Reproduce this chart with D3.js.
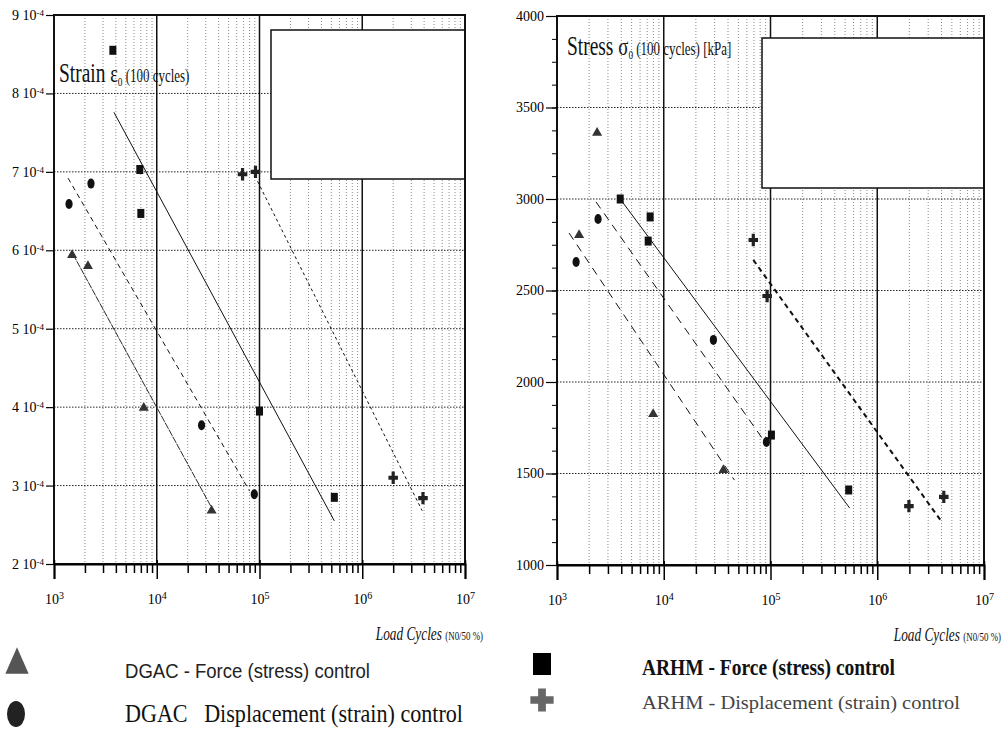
<!DOCTYPE html>
<html>
<head>
<meta charset="utf-8">
<script src="https://cdn.jsdelivr.net/npm/d3@7"></script>
<style>
  body { margin: 0; background: #fff; }
  svg { display: block; }
</style>
</head>
<body>
<svg id="fig" width="1005" height="729"></svg>
<script>
// ---- values ----
var cycleTicks = [1e3, 1e4, 1e5, 1e6, 1e7];
var strainTicks = [2e-4, 3e-4, 4e-4, 5e-4, 6e-4, 7e-4, 8e-4, 9e-4];
var stressTicks = [1000, 1500, 2000, 2500, 3000, 3500, 4000];

// strain panel: [load cycles, strain]
var strainDgacForce = [[1500, 5.94e-4], [2140, 5.80e-4], [7480, 3.99e-4], [34200, 2.68e-4]];
var strainDgacDisp  = [[1400, 6.59e-4], [2290, 6.85e-4], [27300, 3.77e-4], [89000, 2.89e-4]];
var strainArhmForce = [[3740, 8.55e-4], [6840, 7.03e-4], [7000, 6.47e-4], [100000, 3.95e-4], [535000, 2.85e-4]];
var strainArhmDisp  = [[68400, 6.97e-4], [91400, 7.00e-4], [2.0e6, 3.10e-4], [3.9e6, 2.84e-4]];
// fitted lines (end points)
var strainFitDgacForce = [[1530, 5.95e-4], [36500, 2.65e-4]];
var strainFitDgacDisp  = [[1370, 6.92e-4], [80000, 2.93e-4]];
var strainFitArhmForce = [[3830, 7.76e-4], [535000, 2.55e-4]];
var strainFitArhmDisp  = [[95700, 6.88e-4], [3.83e6, 2.68e-4]];

// stress panel: [load cycles, kPa]
var stressDgacForce = [[1610, 2803], [2375, 3361], [7960, 1825], [36200, 1519]];
var stressDgacDisp  = [[1510, 2656], [2425, 2891], [29200, 2230], [91600, 1672]];
var stressArhmForce = [[3910, 3000], [7460, 2902], [7150, 2770], [102000, 1710], [540000, 1410]];
var stressArhmDisp  = [[69000, 2776], [93000, 2470], [1.98e6, 1322], [4.2e6, 1372]];
var stressFitDgacForce = [[1297, 2814], [45900, 1464]];
var stressFitDgacDisp  = [[2320, 2984], [85900, 1683]];
var stressFitArhmForce = [[3910, 3000], [552000, 1311]];
var stressFitArhmDisp  = [[69000, 2667], [4.03e6, 1235]];

var svg = d3.select('#fig');
var serif = '"Liberation Serif", "DejaVu Serif", serif';

/**
 * One S-N panel: log x (load cycles), linear y
 */
function panel(o) {
  var g = svg.append('g');
  var x = d3.scaleLog().domain([1e3, 1e7]).range([o.x0, o.x1]);
  var y = d3.scaleLinear().domain(o.yDomain).range([o.y1, o.y0]);

  // minor (2..9) cycles
  var minors = [];
  [3, 4, 5, 6].forEach(function(p){
    for (var m = 2; m <= 9; m++) minors.push(m * Math.pow(10, p));
  });

  // minor vertical grid, dotted grey
  g.selectAll('.vminor').data(minors).enter().append('line')
    .attr('x1', function(d){ return x(d); }).attr('x2', function(d){ return x(d); })
    .attr('y1', o.y0).attr('y2', o.y1)
    .attr('stroke', '#8a8a8a').attr('stroke-width', 1)
    .attr('stroke-dasharray', '1,2');

  // horizontal grid, dotted black
  g.selectAll('.hgrid').data(o.yTicks.slice(1, -1)).enter().append('line')
    .attr('x1', o.x0).attr('x2', o.x1)
    .attr('y1', function(d){ return y(d); }).attr('y2', function(d){ return y(d); })
    .attr('stroke', '#222').attr('stroke-width', 1)
    .attr('stroke-dasharray', '1.5,1.5');

  // decade lines, solid
  g.selectAll('.vmajor').data(cycleTicks.slice(1, -1)).enter().append('line')
    .attr('x1', function(d){ return x(d); }).attr('x2', function(d){ return x(d); })
    .attr('y1', o.y0).attr('y2', o.y1)
    .attr('stroke', '#111').attr('stroke-width', 1.5);

  // empty legend frame in the upper right
  g.append('rect')
    .attr('x', o.box[0]).attr('y', o.box[1])
    .attr('width', o.x1 - o.box[0]).attr('height', o.box[2] - o.box[1])
    .attr('fill', '#fff').attr('stroke', '#111').attr('stroke-width', 1.5);

  // plot frame
  g.append('rect')
    .attr('x', o.x0).attr('y', o.y0)
    .attr('width', o.x1 - o.x0).attr('height', o.y1 - o.y0)
    .attr('fill', 'none').attr('stroke', '#111').attr('stroke-width', 2);

  // x axis: minor ticks
  g.append('g')
    .attr('transform', 'translate(0,' + o.y1 + ')')
    .call(d3.axisBottom(x).tickValues(minors).tickSize(9).tickFormat(''))
    .call(function(a){ a.select('.domain').remove(); a.selectAll('line').attr('stroke-width', 1.5); });

  // x axis: decades with 10^n labels
  var xa = g.append('g')
    .attr('transform', 'translate(0,' + o.y1 + ')')
    .call(d3.axisBottom(x).tickValues(cycleTicks).tickSize(15).tickPadding(15).tickFormat(''));
  xa.select('.domain').attr('stroke-width', 2);
  xa.selectAll('line').attr('stroke-width', 1.5).attr('y1', -4);
  xa.selectAll('.tick text').each(function(d){
    var t = d3.select(this).attr('font-family', serif).attr('font-size', 14).attr('fill', '#000');
    t.append('tspan').text('10');
    t.append('tspan').attr('dy', '-0.45em').attr('font-size', 10).text(Math.round(Math.log10(d)));
  });

  // y axis: minor ticks (stress panel only)
  if (o.yMinor) {
    g.append('g')
      .attr('transform', 'translate(' + o.x0 + ',0)')
      .call(d3.axisLeft(y).tickValues(o.yMinor).tickSize(5).tickFormat(''))
      .call(function(a){ a.select('.domain').remove(); });
  }

  // y axis: major ticks
  var ya = g.append('g')
    .attr('transform', 'translate(' + o.x0 + ',0)')
    .call(d3.axisLeft(y).tickValues(o.yTicks).tickSize(o.tickLen).tickPadding(2).tickFormat(''));
  ya.select('.domain').remove();
  ya.selectAll('line').attr('stroke-width', 1.2);
  ya.selectAll('.tick text').each(function(d){
    var t = d3.select(this).attr('font-family', serif).attr('font-size', 14).attr('fill', '#000');
    o.yLabel(t, d);
  });

  // fitted lines
  var line = d3.line().x(function(d){ return x(d[0]); }).y(function(d){ return y(d[1]); });
  o.fits.forEach(function(f){
    g.append('path').datum(f.data).attr('d', line)
      .attr('fill', 'none').attr('stroke', '#111')
      .attr('stroke-width', f.w).attr('stroke-dasharray', f.dash);
  });

  // markers
  var tri = d3.symbol().type(d3.symbolTriangle).size(44);
  var crs = d3.symbol().type(d3.symbolCross).size(70);
  g.selectAll('.tri').data(o.tri).enter().append('path')
    .attr('d', tri).attr('fill', '#333')
    .attr('transform', function(d){ return 'translate(' + x(d[0]) + ',' + y(d[1]) + ')'; });
  g.selectAll('.circ').data(o.circ).enter().append('ellipse')
    .attr('cx', function(d){ return x(d[0]); }).attr('cy', function(d){ return y(d[1]); })
    .attr('rx', 3.6).attr('ry', 5).attr('fill', '#111');
  g.selectAll('.sq').data(o.sq).enter().append('rect')
    .attr('x', function(d){ return x(d[0]) - 3.5; }).attr('y', function(d){ return y(d[1]) - 4.5; })
    .attr('width', 7).attr('height', 9).attr('fill', '#111');
  g.selectAll('.crs').data(o.crs).enter().append('path')
    .attr('d', crs).attr('fill', '#222')
    .attr('transform', function(d){ return 'translate(' + x(d[0]) + ',' + y(d[1]) + ') scale(0.85,1.1)'; });

  // x title, condensed like the scan
  var xt = g.append('text')
    .attr('transform', 'translate(' + (o.x1 + o.xtShift) + ',' + (o.y1 + 76) + ') scale(0.74,1)')
    .attr('text-anchor', 'end').attr('font-family', serif).attr('fill', '#111');
  xt.append('tspan').attr('font-size', 18).attr('font-style', 'italic').text('Load Cycles ');
  xt.append('tspan').attr('font-size', 12).text('(N0/50 %)');

  return g;
}

// ---------- left: strain ----------
panel({
  x0: 54, x1: 465, y0: 15, y1: 564,
  yDomain: [2e-4, 9e-4], yTicks: strainTicks, tickLen: 8,
  box: [271, 30, 179],
  xtShift: 18,
  yLabel: function(t, d){
    t.append('tspan').text(Math.round(d * 1e4) + ' 10');
    t.append('tspan').attr('dy', '-0.45em').attr('font-size', 9).text('-4');
  },
  fits: [
    {data: strainFitDgacForce, w: 0.9, dash: '7,1'},
    {data: strainFitDgacDisp, w: 1, dash: '5,4'},
    {data: strainFitArhmForce, w: 1, dash: null},
    {data: strainFitArhmDisp, w: 1, dash: '3,3'}
  ],
  tri: strainDgacForce, circ: strainDgacDisp, sq: strainArhmForce, crs: strainArhmDisp
});

// ---------- right: stress ----------
var stressMinor = d3.range(1000, 4001, 125);
panel({
  x0: 557, x1: 984, y0: 16, y1: 565,
  yDomain: [1000, 4000], yTicks: stressTicks, yMinor: stressMinor, tickLen: 11,
  box: [762, 38, 188],
  xtShift: 17,
  yLabel: function(t, d){ t.text(d); },
  fits: [
    {data: stressFitDgacForce, w: 1, dash: '8,6'},
    {data: stressFitDgacDisp, w: 1, dash: '8,6'},
    {data: stressFitArhmForce, w: 1, dash: null},
    {data: stressFitArhmDisp, w: 2, dash: '5,4'}
  ],
  tri: stressDgacForce, circ: stressDgacDisp, sq: stressArhmForce, crs: stressArhmDisp
});

// ---------- in-plot titles ----------
var t1 = svg.append('text').attr('transform', 'translate(59,82) scale(0.72,1)')
  .attr('font-family', serif).attr('fill', '#111');
t1.append('tspan').attr('font-size', 27).text('Strain ');
t1.append('tspan').attr('font-size', 25).text('ε');
t1.append('tspan').attr('font-size', 13).attr('dy', 4).text('0');
t1.append('tspan').attr('font-size', 18).attr('dy', -4).text(' (100 cycles)');

var t2 = svg.append('text').attr('transform', 'translate(567,55) scale(0.72,1)')
  .attr('font-family', serif).attr('fill', '#111');
t2.append('tspan').attr('font-size', 27).text('Stress ');
t2.append('tspan').attr('font-size', 26).text('σ');
t2.append('tspan').attr('font-size', 13).attr('dy', 4).text('0');
t2.append('tspan').attr('font-size', 18).attr('dy', -4).text(' (100 cycles) [kPa]');

// ---------- legend under the panels ----------
var legend = [
  {sym: 'tri', x: 17, y: 665, text: 'DGAC - Force (stress) control', tx: 125, ty: 678, len: 245,
   font: '"Liberation Sans", sans-serif', size: 21, fill: '#555', tfill: '#222', weight: 'normal'},
  {sym: 'circ', x: 16, y: 714, text: 'DGAC   Displacement (strain) control', tx: 125, ty: 722, len: 338,
   font: serif, size: 25, fill: '#222', tfill: '#111', weight: 'normal'},
  {sym: 'sq', x: 542, y: 664, text: 'ARHM - Force (stress) control', tx: 642, ty: 675, len: 253,
   font: serif, size: 23, fill: '#000', tfill: '#111', weight: 'bold'},
  {sym: 'crs', x: 542, y: 700, text: 'ARHM - Displacement (strain) control', tx: 642, ty: 709, len: 318,
   font: serif, size: 19, fill: '#666', tfill: '#444', weight: 'normal'}
];
var lg = svg.append('g');
legend.forEach(function(l){
  if (l.sym === 'tri') {
    lg.append('path').attr('d', d3.symbol().type(d3.symbolTriangle).size(260))
      .attr('transform', 'translate(' + l.x + ',' + l.y + ') scale(0.95,1.25)').attr('fill', l.fill);
  } else if (l.sym === 'circ') {
    lg.append('ellipse').attr('cx', l.x).attr('cy', l.y).attr('rx', 9).attr('ry', 13).attr('fill', l.fill);
  } else if (l.sym === 'sq') {
    lg.append('rect').attr('x', l.x - 9).attr('y', l.y - 11).attr('width', 18).attr('height', 22).attr('fill', l.fill);
  } else {
    lg.append('path').attr('d', d3.symbol().type(d3.symbolCross).size(300))
      .attr('transform', 'translate(' + l.x + ',' + l.y + ')').attr('fill', l.fill);
  }
  lg.append('text').attr('x', l.tx).attr('y', l.ty)
    .attr('font-family', l.font).attr('font-size', l.size).attr('font-weight', l.weight)
    .attr('fill', l.tfill).style('white-space', 'pre')
    .attr('textLength', l.len).attr('lengthAdjust', 'spacingAndGlyphs')
    .text(l.text);
});
</script>
</body>
</html>
